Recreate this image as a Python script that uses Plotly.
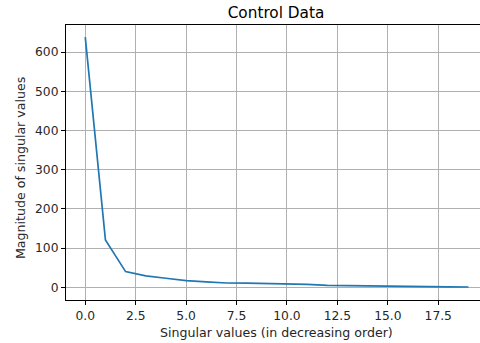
import plotly.graph_objects as go

x_vals = list(range(20))
singular_values = [638, 121, 40, 29, 23, 17, 14, 11, 10.5, 10, 9.5, 7.5, 5, 4, 3, 2.5, 2, 1.5, 1, 0.7]
x_ticks = [0, 2.5, 5, 7.5, 10, 12.5, 15, 17.5]
x_tick_labels = ["0.0", "2.5", "5.0", "7.5", "10.0", "12.5", "15.0", "17.5"]
y_ticks = [0, 100, 200, 300, 400, 500, 600]

font = "DejaVu Sans"
fig = go.Figure()
fig.add_trace(go.Scatter(x=x_vals, y=singular_values, mode="lines",
                         line=dict(color="#1f77b4", width=1.7), showlegend=False))

axis_common = dict(showgrid=True, gridcolor="#b0b0b0", gridwidth=0.9,
                   showline=True, linecolor="black", linewidth=1,
                   ticks="outside", ticklen=4, tickwidth=1, tickcolor="black",
                   zeroline=False, tickfont=dict(family=font, size=12.3, color="#262626"))

fig.update_layout(
    width=480, height=343,
    margin=dict(l=66, r=0, t=25, b=43),
    paper_bgcolor="white", plot_bgcolor="white",
    title=dict(text="Control Data", x=276/480, xanchor="center", y=1 - 13/343, yanchor="middle",
               font=dict(family=font, size=15.3, color="black")),
    xaxis=dict(range=[-0.955, 19.57], tickvals=x_ticks, ticktext=x_tick_labels,
               mirror=True, **axis_common),
    yaxis=dict(range=[-32.4, 669], tickvals=y_ticks, mirror=False, **axis_common),
    annotations=[
        dict(text="Singular values (in decreasing order)", xref="paper", yref="paper",
             x=(276.5 - 66) / 414, y=-(332 - 300) / 275, xanchor="center", yanchor="middle",
             showarrow=False, font=dict(family=font, size=12.6, color="#262626")),
        dict(text="Magnitude of singular values", xref="paper", yref="paper",
             x=-(66 - 20) / 414, y=(300 - 168) / 275, xanchor="center", yanchor="middle", textangle=-90,
             showarrow=False, font=dict(family=font, size=12.6, color="#262626")),
    ],
)
fig.write_html("out.html", config={"displayModeBar": False},
               post_script="document.body.style.margin='0';document.body.style.overflow='hidden';")
